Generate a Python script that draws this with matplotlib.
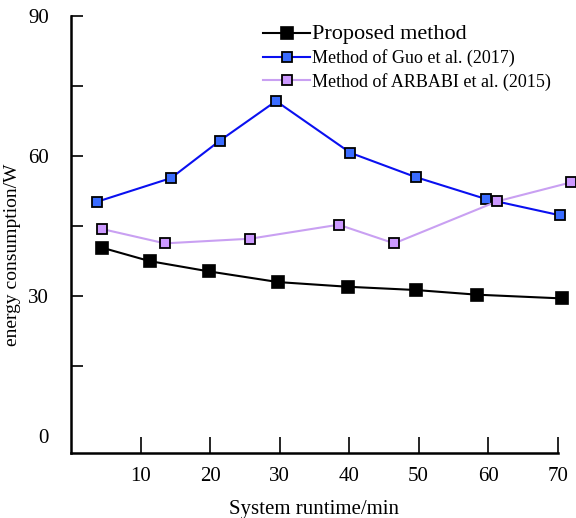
import matplotlib.pyplot as plt

plt.rcParams['font.family'] = ['Liberation Serif', 'DejaVu Serif']

# values
proposed_x = [4.4, 11.3, 19.8, 29.8, 39.8, 49.6, 58.4, 70.6]
proposed_y = [40.3, 37.4, 35.2, 32.9, 31.9, 31.2, 30.2, 29.4]

guo_x = [3.7, 14.4, 21.4, 29.5, 40.2, 49.6, 59.7, 70.4]
guo_y = [50.1, 55.2, 63.2, 71.7, 60.6, 55.4, 50.7, 47.2]

arbabi_x = [4.4, 13.5, 25.8, 38.5, 46.5, 61.3, 72.0]
arbabi_y = [44.3, 41.2, 42.2, 45.2, 41.2, 50.2, 54.3]

series_labels = ['Proposed method', 'Method of Guo et al. (2017)',
                 'Method of ARBABI et al. (2015)']
x_ticks = [10, 20, 30, 40, 50, 60, 70]
y_ticks = [0, 30, 60, 90]
y_minor = [15, 45, 75]

fig = plt.figure(figsize=(5.76, 5.18), dpi=100)
ax = fig.add_axes([0.1233, 0.1249, 0.8447, 0.8448])

ax.plot(proposed_x, proposed_y, color='black', lw=1.5, marker='s',
        ms=8, mfc='black', mec='black', mew=1.2, clip_on=False,
        label=series_labels[0])
ax.plot(guo_x, guo_y, color='#0a10f0', lw=1.5, marker='s',
        ms=7.5, mfc='#3a6cff', mec='black', mew=1.3, clip_on=False,
        label=series_labels[1])
ax.plot(arbabi_x, arbabi_y, color='#c9a0f2', lw=1.5, marker='s',
        ms=7.5, mfc='#cc99ff', mec='black', mew=1.3, clip_on=False,
        label=series_labels[2])

ax.set_xlim(0, 70)
ax.set_ylim(-3.8, 90)
ax.set_xticks(x_ticks)
ax.set_yticks(y_ticks)
ax.set_yticks(y_minor, minor=True)
ax.yaxis.get_major_ticks()[0].tick1line.set_visible(False)

for side in ['top', 'right']:
    ax.spines[side].set_visible(False)
for side in ['left', 'bottom']:
    ax.spines[side].set_linewidth(1.8)

ax.tick_params(axis='x', direction='in', length=11.5, width=1.2,
               labelsize=15, pad=10)
ax.tick_params(axis='y', which='both', direction='in', length=8.5,
               width=1.2, labelsize=15, pad=16)

ax.set_xlabel('System runtime/min', fontsize=15, labelpad=10)
ax.set_ylabel('energy consumption/W', fontsize=14)
ax.yaxis.set_label_coords(-0.103, 0.453)

leg = ax.legend(loc='upper left', bbox_to_anchor=(0.38, 0.995), frameon=False,
                fontsize=13, handlelength=2.6, handletextpad=0.1,
                labelspacing=0.3, borderaxespad=0)
leg.get_texts()[0].set_fontsize(16)

fig.savefig('out.png', dpi=100)
